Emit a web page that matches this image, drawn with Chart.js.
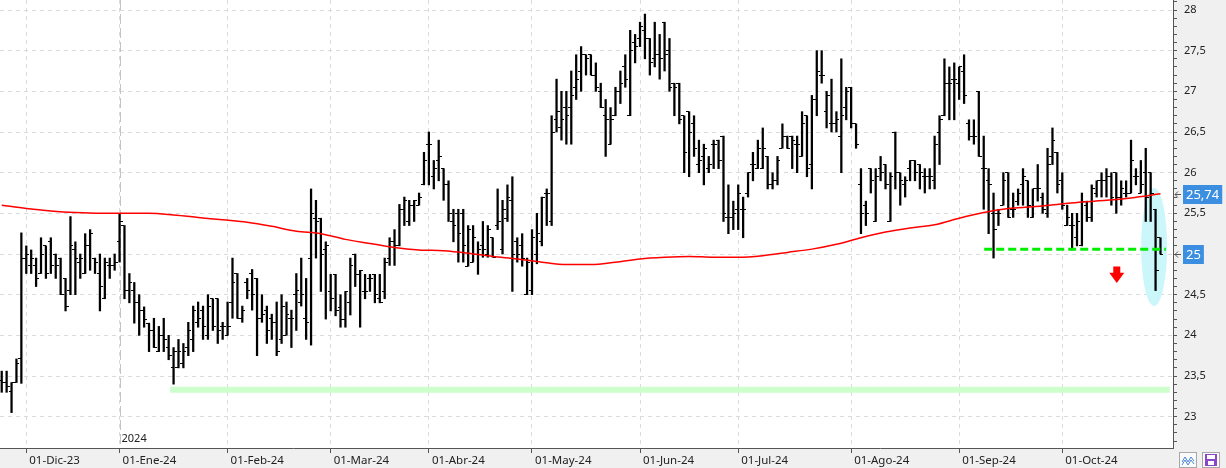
<html>
  <head>
    <title>Cotizacion diaria</title>
    <script src="https://cdn.jsdelivr.net/npm/chart.js"></script>
    <style>
      body { margin: 0; background: #f0f0f0; }
      canvas { display: block; }
    </style>
  </head>

  <body>
    <canvas id="myChart" width="1226" height="468"></canvas>

  <script>

    // barras diarias (OHLC), una por sesion: 24-Nov-23 ... 29-Oct-24
    const opens = [
      23.45, 23.42, 23.31, 23.42, 23.71, 24.95, 24.86, 24.86, 24.76, 25.10,
      25.15, 25.00, 24.95, 24.70, 24.55, 25.05, 24.90, 24.76, 25.10, 24.95,
      24.76, 24.45, 24.86, 24.86, 25.15, 25.35, 24.55, 24.55, 24.40, 24.30,
      24.15, 24.06, 23.80, 24.00, 23.85, 23.60, 23.60, 23.65, 23.85, 23.95,
      24.16, 24.31, 24.00, 24.45, 24.45, 24.11, 24.00, 24.41, 24.76, 24.21,
      24.65, 24.76, 24.70, 24.21, 24.31, 24.21, 24.16, 23.95, 24.00, 24.21,
      24.50, 24.41, 24.21, 24.95, 25.44, 25.44, 25.05, 24.54, 24.75, 24.34,
      24.20, 24.40, 25.00, 24.75, 24.54, 24.70, 24.75, 24.45, 24.54, 24.95,
      25.15, 25.10, 25.55, 25.40, 25.60, 25.60, 25.85, 26.35, 25.95, 26.15,
      26.05, 25.85, 25.40, 25.50, 25.50, 24.85, 24.90, 25.00, 25.10, 25.00,
      25.20, 25.35, 25.05, 25.44, 25.66, 25.15, 25.10, 24.50, 24.55, 25.00,
      25.15, 25.75, 25.40, 26.65, 26.55, 26.80, 26.80, 27.05, 27.25, 27.45,
      27.45, 27.20, 27.00, 26.70, 26.35, 26.70, 27.00, 27.30, 26.70, 27.60,
      27.65, 27.75, 27.65, 27.40, 27.45, 27.85, 27.50, 27.10, 27.10, 26.70,
      26.75, 26.60, 26.10, 26.20, 26.05, 26.35, 26.40, 26.45, 25.45, 25.45,
      25.55, 25.55, 25.75, 26.10, 26.05, 26.05, 26.20, 25.85, 25.90, 26.30,
      26.45, 26.45, 26.35, 26.20, 26.70, 26.10, 26.90, 27.20, 26.75, 26.60,
      26.60, 26.45, 26.80, 27.05, 26.60, 25.85, 25.60, 26.05, 25.40, 26.05,
      26.10, 25.40, 26.50, 26.00, 25.85, 26.05, 26.15, 26.10, 25.95, 25.95,
      25.90, 26.50, 26.70, 27.10, 27.15, 27.10, 27.25, 26.60, 26.45, 27.00,
      26.05, 25.90, 25.50, 25.50, 25.60, 26.00, 25.55, 25.65, 25.85, 25.90,
      25.45, 25.80, 25.70, 25.50, 26.20, 26.25, 25.90, 25.35, 25.35, 25.20,
      25.10, 25.60, 25.45, 25.75, 25.90, 25.90, 25.95, 26.00, 25.70, 25.75,
      25.75, 25.95, 25.75, 26.00, 26.00, 25.55, 25.20
    ];
    const highs = [
      23.56, 23.56, 23.42, 23.71, 25.26, 25.10, 25.05, 24.95, 25.20, 25.10,
      25.20, 25.00, 24.95, 24.70, 25.46, 25.15, 25.00, 25.25, 25.30, 24.95,
      25.00, 24.95, 24.95, 25.00, 25.50, 25.35, 24.76, 24.65, 24.50, 24.35,
      24.15, 24.21, 24.11, 24.21, 24.00, 23.85, 23.95, 23.90, 24.16, 24.36,
      24.41, 24.36, 24.50, 24.45, 24.45, 24.16, 24.41, 24.95, 24.76, 24.36,
      24.70, 24.81, 24.70, 24.50, 24.36, 24.26, 24.41, 24.50, 24.41, 24.31,
      24.76, 24.95, 24.70, 25.80, 25.66, 25.44, 25.15, 24.75, 24.75, 24.50,
      24.54, 24.95, 25.00, 24.80, 24.75, 24.75, 24.75, 24.75, 24.95, 25.20,
      25.30, 25.61, 25.70, 25.66, 25.66, 25.75, 26.25, 26.50, 26.15, 26.40,
      26.05, 25.90, 25.55, 25.55, 25.55, 25.35, 25.35, 25.15, 25.40, 25.35,
      25.20, 25.80, 25.66, 25.85, 25.95, 25.20, 25.25, 24.95, 25.30, 25.50,
      25.70, 25.80, 26.70, 27.15, 27.00, 27.00, 27.25, 27.45, 27.55, 27.45,
      27.45, 27.35, 27.10, 26.90, 26.80, 27.05, 27.25, 27.45, 27.75, 27.70,
      27.85, 27.95, 27.65, 27.85, 27.70, 27.85, 27.65, 27.10, 27.10, 26.70,
      26.75, 26.70, 26.40, 26.35, 26.20, 26.40, 26.40, 26.45, 25.85, 25.65,
      25.85, 25.70, 26.00, 26.25, 26.40, 26.55, 26.20, 26.00, 26.20, 26.60,
      26.45, 26.45, 26.45, 26.75, 26.70, 26.95, 27.50, 27.50, 27.00, 27.15,
      26.75, 27.40, 27.05, 27.05, 26.60, 26.05, 25.65, 26.05, 26.05, 26.20,
      26.10, 26.00, 26.50, 26.00, 25.95, 26.15, 26.15, 26.10, 26.05, 26.05,
      26.45, 26.70, 27.40, 27.30, 27.35, 27.30, 27.45, 26.65, 26.65, 27.00,
      26.45, 26.05, 25.75, 25.55, 26.00, 26.00, 25.75, 25.80, 26.05, 25.90,
      25.80, 26.10, 25.75, 26.30, 26.55, 26.25, 26.00, 25.60, 25.50, 25.50,
      25.75, 25.65, 25.85, 25.90, 26.00, 26.05, 26.00, 26.00, 25.90, 25.90,
      26.40, 26.05, 26.15, 26.30, 26.00, 25.55, 25.20
    ];
    const lows = [
      23.30, 23.30, 23.05, 23.42, 23.41, 24.76, 24.76, 24.60, 24.76, 24.70,
      24.76, 24.70, 24.50, 24.30, 24.50, 24.50, 24.70, 24.76, 24.80, 24.76,
      24.30, 24.45, 24.70, 24.80, 24.90, 24.45, 24.40, 24.15, 24.00, 24.10,
      23.80, 23.85, 23.80, 23.80, 23.70, 23.40, 23.60, 23.60, 23.75, 23.80,
      24.10, 23.95, 23.95, 24.06, 23.90, 23.95, 24.00, 24.21, 24.21, 24.16,
      24.45, 24.31, 23.75, 24.16, 23.90, 23.95, 23.75, 23.90, 24.00, 23.85,
      24.06, 24.36, 23.95, 23.88, 24.95, 24.54, 24.20, 24.30, 24.24, 24.10,
      24.10, 24.25, 24.60, 24.10, 24.45, 24.54, 24.40, 24.40, 24.45, 24.86,
      24.86, 25.10, 25.35, 25.35, 25.40, 25.60, 25.85, 25.85, 25.80, 25.90,
      25.66, 25.40, 25.15, 24.90, 24.90, 24.85, 24.90, 24.75, 24.96, 24.96,
      24.96, 25.30, 25.00, 25.40, 24.54, 24.90, 24.85, 24.50, 24.50, 24.88,
      25.10, 25.35, 25.35, 26.50, 26.40, 26.35, 26.35, 26.90, 27.00, 27.20,
      27.20, 27.00, 26.80, 26.20, 26.35, 26.70, 26.85, 27.05, 26.70, 27.35,
      27.55, 27.40, 27.20, 27.30, 27.15, 27.25, 27.00, 26.70, 26.60, 26.00,
      25.95, 26.20, 26.00, 25.85, 26.00, 26.05, 26.05, 25.40, 25.25, 25.30,
      25.30, 25.20, 25.70, 25.90, 26.05, 26.05, 25.80, 25.80, 25.85, 26.30,
      26.30, 26.05, 26.00, 26.20, 25.95, 25.80, 26.70, 27.10, 26.55, 26.50,
      26.50, 26.00, 26.65, 26.55, 26.30, 25.25, 25.35, 25.75, 25.40, 25.90,
      25.80, 25.40, 25.80, 25.60, 25.70, 25.90, 25.90, 25.80, 25.75, 25.80,
      25.80, 26.10, 26.70, 26.65, 26.65, 26.90, 26.85, 26.40, 26.35, 26.20,
      25.55, 25.25, 24.95, 25.35, 25.60, 25.45, 25.45, 25.60, 25.60, 25.45,
      25.45, 25.65, 25.50, 25.45, 26.10, 25.75, 25.55, 25.35, 25.05, 25.10,
      25.10, 25.40, 25.40, 25.70, 25.70, 25.70, 25.60, 25.50, 25.60, 25.70,
      25.75, 25.85, 25.75, 25.40, 25.40, 24.55, 25.00
    ];
    const closes = [
      23.42, 23.37, 23.42, 23.66, 24.95, 25.00, 24.95, 24.70, 25.00, 24.76,
      24.86, 24.86, 24.50, 24.35, 25.10, 24.95, 24.95, 25.10, 25.25, 24.90,
      24.60, 24.90, 24.86, 24.90, 25.40, 24.55, 24.65, 24.40, 24.30, 24.20,
      24.06, 23.85, 24.00, 23.95, 23.75, 23.80, 23.80, 23.80, 24.06, 24.30,
      24.21, 24.11, 24.36, 24.11, 24.06, 24.11, 24.11, 24.65, 24.21, 24.31,
      24.55, 24.50, 24.21, 24.26, 24.06, 24.16, 23.80, 24.36, 24.26, 24.21,
      24.55, 24.50, 24.16, 25.50, 25.40, 25.00, 25.10, 24.45, 24.30, 24.20,
      24.54, 24.86, 24.75, 24.80, 24.54, 24.70, 24.50, 24.40, 24.90, 25.15,
      25.10, 25.55, 25.66, 25.60, 25.66, 25.70, 26.15, 26.35, 26.05, 26.20,
      25.85, 25.50, 25.35, 25.25, 25.10, 25.30, 25.20, 25.05, 25.05, 25.30,
      24.96, 25.40, 25.55, 25.70, 25.00, 25.00, 24.95, 24.90, 25.20, 25.25,
      25.70, 25.75, 26.50, 26.75, 26.65, 26.70, 26.95, 27.15, 27.45, 27.40,
      27.20, 27.05, 26.80, 26.65, 26.65, 27.00, 27.10, 27.15, 27.50, 27.55,
      27.80, 27.65, 27.35, 27.45, 27.40, 27.45, 27.05, 27.05, 26.65, 26.25,
      26.50, 26.30, 26.15, 26.30, 26.10, 26.35, 26.15, 25.50, 25.45, 25.50,
      25.75, 25.55, 26.00, 26.10, 26.30, 26.30, 25.85, 25.90, 26.15, 26.45,
      26.30, 26.40, 26.35, 26.60, 26.05, 26.90, 27.25, 27.20, 26.95, 26.60,
      26.65, 26.70, 27.00, 26.60, 26.35, 25.50, 25.50, 25.90, 25.95, 26.00,
      25.85, 25.95, 26.00, 25.90, 25.90, 26.15, 26.00, 26.00, 25.95, 25.95,
      26.35, 26.65, 27.10, 27.10, 27.15, 27.30, 26.95, 26.45, 26.45, 26.20,
      26.05, 25.85, 25.30, 25.50, 25.90, 25.45, 25.55, 25.75, 25.95, 25.60,
      25.80, 25.80, 25.55, 26.10, 26.40, 25.85, 25.60, 25.45, 25.35, 25.40,
      25.65, 25.45, 25.80, 25.90, 25.90, 25.95, 25.70, 25.70, 25.80, 25.75,
      26.15, 25.95, 25.85, 25.70, 25.75, 24.80, 25.00
    ];

    // media movil (linea roja), leida cada ~5 sesiones
    const maIdx = [0, 5, 10, 15, 20, 25, 30, 35, 40, 45, 50, 55, 60, 65, 70, 75, 80, 85, 90, 95,
                   100, 105, 110, 115, 120, 125, 130, 135, 140, 145, 150, 155, 160, 165, 170, 175,
                   180, 185, 190, 195, 200, 205, 210, 215, 220, 225, 230, 236];
    const maVal = [25.60, 25.56, 25.53, 25.51, 25.50, 25.50, 25.50, 25.48, 25.45, 25.42, 25.39, 25.34,
                   25.28, 25.25, 25.18, 25.13, 25.08, 25.05, 25.04, 25.01, 24.97, 24.94, 24.90, 24.87,
                   24.87, 24.90, 24.94, 24.96, 24.97, 24.96, 24.96, 24.98, 25.02, 25.06, 25.12, 25.20,
                   25.27, 25.32, 25.36, 25.44, 25.51, 25.56, 25.58, 25.61, 25.64, 25.66, 25.69, 25.74];

    // eje X: primera sesion de cada mes
    const monthIdx = [5, 24, 46, 67, 87, 108, 130, 150, 173, 195, 216];
    const monthLabels = ['01-Dic-23', '01-Ene-24', '01-Feb-24', '01-Mar-24', '01-Abr-24', '01-May-24',
                         '01-Jun-24', '01-Jul-24', '01-Ago-24', '01-Sep-24', '01-Oct-24'];
    const yearIdx = 24;
    const yearLabel = '2024';

    // eje Y
    const yMajor = [23, 23.5, 24, 24.5, 25, 25.5, 26, 26.5, 27, 27.5, 28];
    const yLabels = ['23', '23,5', '24', '24,5', '25', '25,5', '26', '26,5', '27', '27,5', '28'];

    // lineas dibujadas a mano en el grafico original
    const supportLow = 23.33, supportLowFrom = 34.3, supportLowTo = 237.9;
    const supportHigh = 25.06, supportHighFrom = 200.1, supportHighTo = 237.1;
    const ringIdx = 234.7, ringVal = 25.086, ringDx = 2.65, ringDy = 0.725;
    const arrowIdx = 227.1, arrowTop = 24.845, arrowNeck = 24.77, arrowTip = 24.643;

    // etiquetas de precio a la derecha
    const badges = [{value: 25.74, text: '25,74'}, {value: 25, text: '25'}];

    const FONT = '"Noto Sans", "DejaVu Sans", sans-serif';
    Chart.defaults.font.family = FONT;
    Chart.defaults.font.size = 11;
    Chart.defaults.color = '#222';

    function tickImg(side) {
      const c = document.createElement('canvas');
      c.width = 6; c.height = 1;
      const g = c.getContext('2d');
      g.fillStyle = '#000';
      if (side === 'left') g.fillRect(0, 0, 3, 1); else g.fillRect(3, 0, 3, 1);
      return c;
    }

    const yTicks = [];
    for (let k = 227; k <= 281; k++) yTicks.push(k / 10);

    const extras = {
      id: 'extras',
      beforeDraw(chart) {
        const {ctx, chartArea: a} = chart;
        ctx.save();
        ctx.fillStyle = '#f0f0f0';
        ctx.fillRect(0, 0, chart.width, chart.height);
        ctx.fillStyle = '#fff';
        ctx.fillRect(a.left, a.top, a.right - a.left, a.bottom - a.top);
        ctx.restore();
      },
      beforeDatasetsDraw(chart) {
        const {ctx, chartArea: a, scales: {x, y}} = chart;
        ctx.save();
        // linea del cambio de anio
        const yx = Math.round(x.getPixelForValue(yearIdx)) + 0.5;
        ctx.strokeStyle = '#c4c4c4';
        ctx.lineWidth = 1;
        ctx.setLineDash([10, 4]);
        ctx.beginPath(); ctx.moveTo(yx, a.top); ctx.lineTo(yx, a.bottom); ctx.stroke();
        ctx.setLineDash([]);
        ctx.fillStyle = '#222';
        ctx.font = '11px ' + FONT;
        ctx.textBaseline = 'middle';
        ctx.fillText(yearLabel, yx + 1, a.bottom - 9);
        // elipse cian
        const cx = x.getPixelForValue(ringIdx), cy = y.getPixelForValue(ringVal);
        const rx = x.getPixelForValue(ringIdx + ringDx) - cx;
        const ry = y.getPixelForValue(ringVal - ringDy) - cy;
        ctx.fillStyle = '#cbf7fb';
        ctx.beginPath(); ctx.ellipse(cx, cy, rx, ry, 0, 0, 2 * Math.PI); ctx.fill();
        ctx.restore();
        ctx.imageSmoothingEnabled = false;
      },
      afterDatasetsDraw(chart) {
        const {ctx, scales: {x, y}} = chart;
        const ax = x.getPixelForValue(arrowIdx);
        const t = y.getPixelForValue(arrowTop), n = y.getPixelForValue(arrowNeck), p = y.getPixelForValue(arrowTip);
        ctx.save();
        ctx.fillStyle = '#ff0000';
        ctx.beginPath();
        ctx.moveTo(ax - 3.5, t); ctx.lineTo(ax + 3.5, t); ctx.lineTo(ax + 3.5, n);
        ctx.lineTo(ax + 7.5, n); ctx.lineTo(ax, p); ctx.lineTo(ax - 7.5, n); ctx.lineTo(ax - 3.5, n);
        ctx.closePath(); ctx.fill();
        ctx.restore();
      },
      afterDraw(chart) {
        const {ctx, chartArea: a, scales: {y}} = chart;
        ctx.save();
        ctx.font = '13px ' + FONT;
        ctx.textBaseline = 'middle';
        badges.forEach(b => {
          const py = Math.round(y.getPixelForValue(b.value));
          const w = ctx.measureText(b.text).width + 6;
          ctx.fillStyle = '#3c8fe0';
          ctx.fillRect(a.right + 10, py - 9, w, 19);
          ctx.fillStyle = '#fff';
          ctx.fillText(b.text, a.right + 13, py + 1);
          ctx.strokeStyle = '#555';
          ctx.lineWidth = 1;
          ctx.beginPath();
          ctx.moveTo(a.right + 2, py + 0.5); ctx.lineTo(a.right + 8, py + 0.5);
          ctx.moveTo(a.right + 5, py - 2.5); ctx.lineTo(a.right + 2, py + 0.5); ctx.lineTo(a.right + 5, py + 3.5);
          ctx.stroke();
        });
        // botones de la esquina
        ctx.fillStyle = '#fafafa';
        ctx.strokeStyle = '#a8a8a8';
        ctx.fillRect(1179.5, 452.5, 17, 15); ctx.strokeRect(1179.5, 452.5, 17, 15);
        ctx.fillRect(1202.5, 452.5, 17, 15); ctx.strokeRect(1202.5, 452.5, 17, 15);
        ctx.strokeStyle = '#4a86d8';
        ctx.beginPath();
        ctx.moveTo(1182, 462); ctx.lineTo(1185, 457); ctx.lineTo(1188, 462); ctx.lineTo(1191, 457); ctx.lineTo(1194, 461);
        ctx.moveTo(1182, 465); ctx.lineTo(1185, 460); ctx.lineTo(1188, 465); ctx.lineTo(1191, 460); ctx.lineTo(1194, 464);
        ctx.stroke();
        ctx.fillStyle = '#8a48c8';
        ctx.fillRect(1205, 454, 12, 12);
        ctx.fillStyle = '#fff';
        ctx.fillRect(1207, 455, 8, 4);
        ctx.fillRect(1208, 461, 6, 4);
        ctx.restore();
      }
    };

    const data = {
      datasets: [
        {
          type: 'line',
          data: [{x: supportLowFrom, y: supportLow}, {x: supportLowTo, y: supportLow}],
          borderColor: '#ccffcc', borderWidth: 6, borderCapStyle: 'butt',
          pointRadius: 0, order: 6
        },
        {
          type: 'bar',
          data: highs.map((h, i) => ({x: i, y: [lows[i], h]})),
          backgroundColor: '#000', borderWidth: 0,
          barThickness: 1.6, grouped: false, order: 4
        },
        {
          type: 'scatter',
          data: opens.map((o, i) => ({x: i, y: o})),
          pointStyle: tickImg('left'), pointRadius: 3, order: 3
        },
        {
          type: 'scatter',
          data: closes.map((c, i) => ({x: i, y: c})),
          pointStyle: tickImg('right'), pointRadius: 3, order: 2
        },
        {
          type: 'line',
          data: maIdx.map((v, k) => ({x: v, y: maVal[k]})),
          borderColor: '#ff0000', borderWidth: 1.5,
          cubicInterpolationMode: 'monotone', pointRadius: 0, order: 1
        },
        {
          type: 'line',
          data: [{x: supportHighFrom, y: supportHigh}, {x: supportHighTo, y: supportHigh}],
          borderColor: '#00ee00', borderWidth: 3, borderDash: [8, 4], borderCapStyle: 'butt',
          pointRadius: 0, order: 0
        }
      ]
    };

    const config = {
      type: 'scatter',
      data: data,
      plugins: [extras],
      options: {
        responsive: false,
        animation: false,
        events: [],
        layout: { padding: 0, autoPadding: false },
        plugins: { legend: { display: false }, tooltip: { enabled: false } },
        scales: {
          x: {
            type: 'linear', min: -0.35, max: 238.55, offset: false, bounds: 'data',
            afterBuildTicks: s => { s.ticks = monthIdx.map(v => ({value: v})); },
            afterFit: s => { s.height = 20; s.paddingLeft = 0; s.paddingRight = 0; },
            ticks: {
              autoSkip: false, maxRotation: 0, align: 'start', labelOffset: 3, padding: 1,
              font: { size: 11.5 },
              callback: (v, i) => monthLabels[i]
            },
            grid: { offset: false, color: '#dadada', tickColor: '#555', tickLength: 5 },
            border: { color: '#555', dash: [4, 4] }
          },
          y: {
            type: 'linear', position: 'right', min: 22.615, max: 28.123, bounds: 'data',
            afterBuildTicks: s => { s.ticks = yTicks.map(v => ({value: v})); },
            afterFit: s => { s.width = 53; s.paddingTop = 0; s.paddingBottom = 0; },
            ticks: {
              autoSkip: false, padding: 7,
              callback: v => { const j = yMajor.indexOf(v); return j < 0 ? '' : yLabels[j]; }
            },
            grid: {
              offset: false,
              color: c => yMajor.includes(c.tick.value) ? '#dadada' : 'rgba(0,0,0,0)',
              tickColor: '#555', tickLength: 4
            },
            border: { color: '#555', dash: [4, 4] }
          }
        }
      }
    };

    window.myChart = new Chart(document.getElementById('myChart'), config);

  </script>
  </body>
</html>
